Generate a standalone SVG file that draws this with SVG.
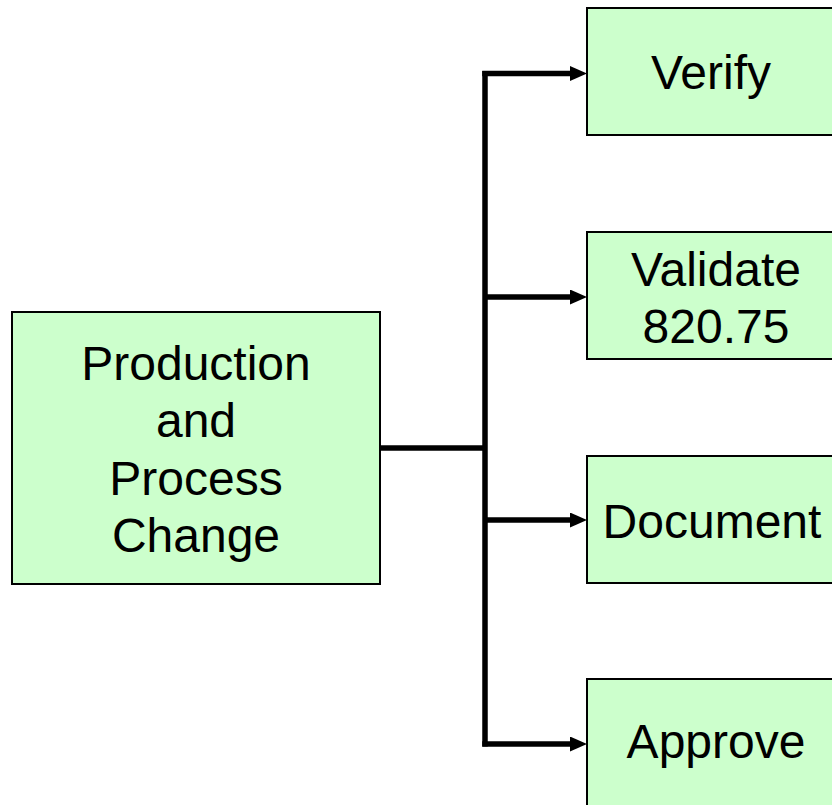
<svg xmlns="http://www.w3.org/2000/svg" width="832" height="805" viewBox="0 0 832 805">
  <style>
    .box { fill: #CCFFCC; stroke: #000; stroke-width: 2; }
    .lbl { font-family: "Liberation Sans", Arial, sans-serif; font-size: 48px; fill: #000; text-anchor: middle; }
    .wire { fill: none; stroke: #000; stroke-width: 5.5; stroke-linejoin: miter; stroke-linecap: butt; }
  </style>
  <defs>
    <!-- arrowhead drawn past the end of each branch line -->
    <marker id="head" viewBox="0 0 17 15" refX="0" refY="7.5" markerWidth="17" markerHeight="15" markerUnits="userSpaceOnUse" orient="auto">
      <path d="M0,0 L17,7.5 L0,15 Z" fill="#000"/>
    </marker>
  </defs>

  <rect width="832" height="805" fill="#fff"/>

  <g id="connectors">
    <path class="wire" d="M380,448 H485"/>
    <path class="wire" d="M485,71 V746.5"/>
    <path class="wire" d="M482.25,73.5 H570" marker-end="url(#head)"/>
    <path class="wire" d="M485,297 H570" marker-end="url(#head)"/>
    <path class="wire" d="M485,520 H570" marker-end="url(#head)"/>
    <path class="wire" d="M482.25,744 H570" marker-end="url(#head)"/>
  </g>

  <g id="change">
    <rect class="box" x="12" y="312" width="368" height="272"/>
    <text class="lbl" x="196" y="380">Production</text>
    <text class="lbl" x="196" y="437">and</text>
    <text class="lbl" x="196" y="495">Process</text>
    <text class="lbl" x="196" y="552">Change</text>
  </g>

  <g id="verify">
    <rect class="box" x="587" y="8" width="250" height="127"/>
    <text class="lbl" x="711" y="89">Verify</text>
  </g>

  <g id="validate">
    <rect class="box" x="587" y="232" width="250" height="127"/>
    <text class="lbl" x="716" y="286">Validate</text>
    <text class="lbl" x="716" y="343">820.75</text>
  </g>

  <g id="document">
    <rect class="box" x="587" y="456" width="250" height="127"/>
    <text class="lbl" x="712" y="538">Document</text>
  </g>

  <g id="approve">
    <rect class="box" x="587" y="679" width="250" height="130"/>
    <text class="lbl" x="716" y="758">Approve</text>
  </g>
</svg>
